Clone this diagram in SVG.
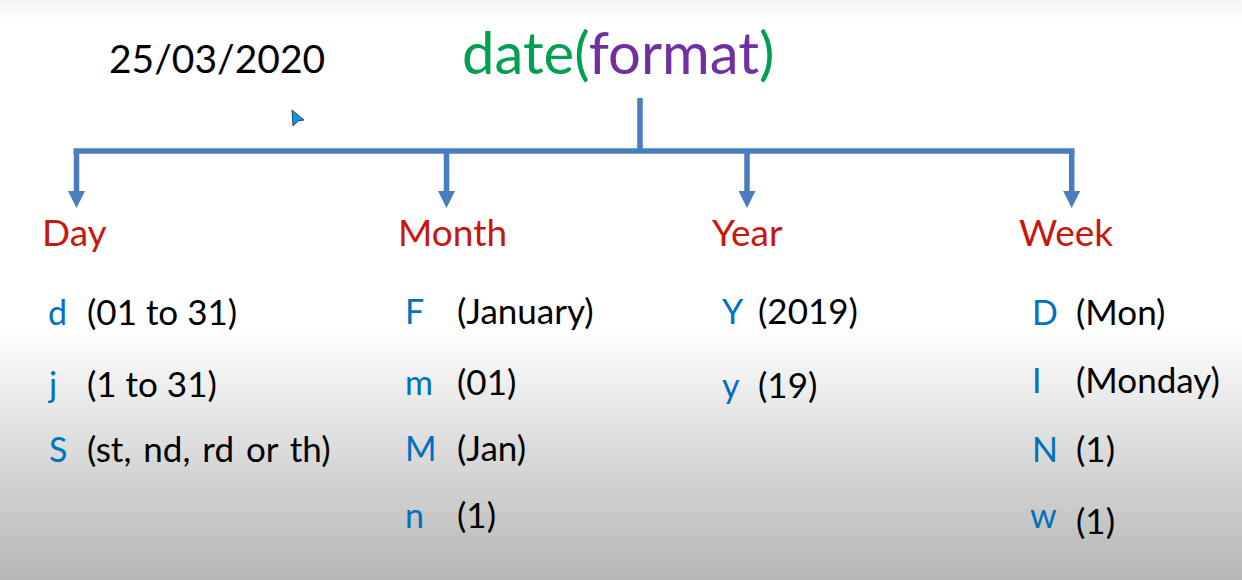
<svg xmlns="http://www.w3.org/2000/svg" width="1242" height="580" viewBox="0 0 1242 580">
<defs>
<linearGradient id="bg" x1="0" y1="0" x2="0" y2="580" gradientUnits="userSpaceOnUse">
<stop offset="0" stop-color="#f4f4f4"/>
<stop offset="0.035" stop-color="#ffffff"/>
<stop offset="0.56" stop-color="#ffffff"/>
<stop offset="1" stop-color="#b6b6b6"/>
</linearGradient>
<marker id="ah" viewBox="0 0 17 17" refX="0" refY="8.5" markerWidth="17" markerHeight="17" markerUnits="userSpaceOnUse" orient="auto">
<path d="M0,0 L17,8.5 L0,17 Z" fill="#4a7dbd"/>
</marker>
</defs>
<style>
text{font-family:Lato,"Liberation Sans",sans-serif}
.t{font-size:39px;fill:#000}
.fn{font-size:58px}
.h{font-size:37px;fill:#c8170c}
.k{font-size:34px;fill:#0070c0}
.v{font-size:35px;fill:#000}
.c{fill:none;stroke:#4a7dbd;stroke-width:5.5}
</style>
<rect width="1242" height="580" fill="url(#bg)"/>
<g id="date"><text class="t" x="109" y="73">25/03/2020</text></g>
<g id="func"><text class="fn" x="462" y="74"><tspan fill="#00a050">date(</tspan><tspan fill="#7030a0">format</tspan><tspan fill="#00a050">)</tspan></text></g>
<g id="cursor"><path d="M292,110 L304,120 L298,121 L293,126 Z" fill="#1a8fe0" stroke="#0a2a4a" stroke-width="0.8"/></g>
<g id="connectors">
<path class="c" d="M640,98 V151"/>
<path class="c" d="M73.5,151 H1074.5"/>
<path class="c" d="M76.5,151 V191" marker-end="url(#ah)"/>
<path class="c" d="M446.5,151 V191" marker-end="url(#ah)"/>
<path class="c" d="M747,151 V191" marker-end="url(#ah)"/>
<path class="c" d="M1071.7,151 V191" marker-end="url(#ah)"/>
</g>
<g id="day">
<text class="h" x="42" y="246">Day</text>
<text class="k" x="48" y="325">d</text><text class="v" x="87" y="325">(01 to 31)</text>
<text class="k" x="49" y="397">j</text><text class="v" x="87" y="397">(1 to 31)</text>
<text class="k" x="49" y="462">S</text><text class="v" x="87" y="462" word-spacing="3">(st, nd, rd or th)</text>
</g>
<g id="month">
<text class="h" x="398" y="246">Month</text>
<text class="k" x="405" y="324">F</text><text class="v" x="457" y="324">(January)</text>
<text class="k" x="405" y="395">m</text><text class="v" x="457" y="395">(01)</text>
<text class="k" x="405" y="461">M</text><text class="v" x="457" y="461">(Jan)</text>
<text class="k" x="405" y="528">n</text><text class="v" x="457" y="528">(1)</text>
</g>
<g id="year">
<text class="h" x="712" y="246">Year</text>
<text class="k" x="722" y="324">Y</text><text class="v" x="758" y="324">(2019)</text>
<text class="k" x="722" y="398">y</text><text class="v" x="758" y="398">(19)</text>
</g>
<g id="week">
<text class="h" x="1019" y="246">Week</text>
<text class="k" x="1032" y="325">D</text><text class="v" x="1076" y="325">(Mon)</text>
<text class="k" x="1032" y="393">I</text><text class="v" x="1076" y="393">(Monday)</text>
<text class="k" x="1032" y="462">N</text><text class="v" x="1076" y="462">(1)</text>
<text class="k" x="1030" y="528">w</text><text class="v" x="1076" y="534">(1)</text>
</g>
</svg>
